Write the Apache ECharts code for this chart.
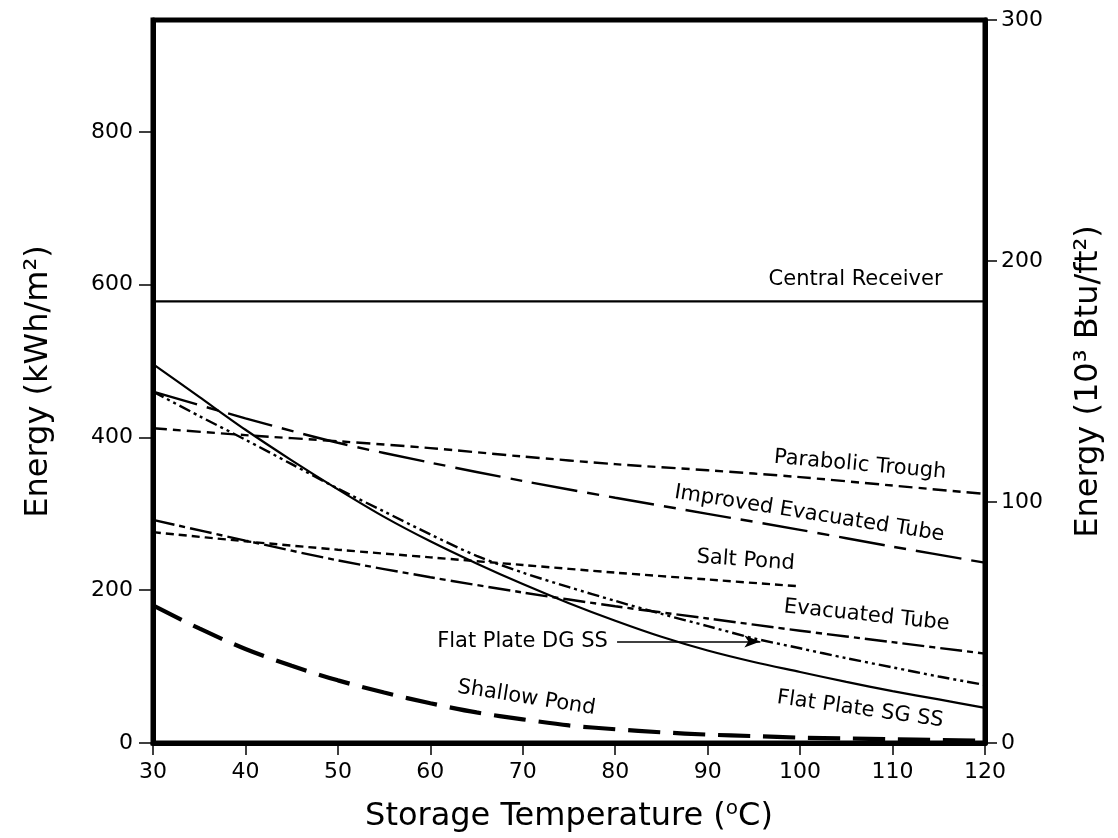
<!DOCTYPE html>
<html>
<head>
<meta charset="utf-8">
<script src="https://cdn.jsdelivr.net/npm/echarts@6/dist/echarts.min.js"></script>
<style>
html,body{margin:0;padding:0;background:#fff;}
#chart{width:1118px;height:838px;}
</style>
</head>
<body>
<div id="chart"></div>
<script>
// ---- Data ----
const temps10 = [30, 40, 50, 60, 70, 80, 90, 100, 110, 120];
const temps5 = [30, 35, 40, 45, 50, 55, 60, 65, 70, 75, 80, 85, 90, 95, 100, 105, 110, 115, 120];
const saltTemps = [30, 40, 50, 60, 70, 80, 90, 100];

const centralReceiver = [578, 578, 578, 578, 578, 578, 578, 578, 578, 578];
const parabolicTrough = [412, 403, 395, 386, 375, 365, 357, 348, 337, 326];
const improvedEvacTube = [460, 425, 393, 367, 343, 321, 300, 279, 257, 236];
const evacuatedTube = [292, 265, 239, 217, 197, 179, 163, 147, 132, 117];
const saltPond = [276, 264, 253, 243, 233, 223, 214, 205];
const flatPlateDG = [460, 428, 397, 365, 333, 303, 273, 245, 223, 204, 186, 169, 153, 137, 124, 111, 99, 87, 76];
const flatPlateSG = [496, 453, 410, 370, 332, 296, 264, 235, 208, 183, 160, 139, 121, 106, 93, 80, 68, 57, 46];
const shallowPond = [180, 150, 123, 101, 82, 66, 52, 40, 31, 23, 18, 14, 11, 9, 7, 6, 5, 4, 3];

const leftTicks = [0, 200, 400, 600, 800];
const rightTicks = [0, 100, 200, 300];
const xTicks = [30, 40, 50, 60, 70, 80, 90, 100, 110, 120];

// Arrow annotation for "Flat Plate DG SS" (data coordinates)
const dgArrow = [[80.2, 133], [95.7, 133]];

// Curve labels: [text, T, energy, rotation(deg), align]
const curveLabels = [
  ['Central Receiver', 106.0, 607, 0, 'center'],
  ['Parabolic Trough', 106.5, 364, -5, 'center'],
  ['Improved Evacuated Tube', 101.0, 300, -9, 'center'],
  ['Salt Pond', 94.1, 239, -4, 'center'],
  ['Evacuated Tube', 107.2, 167, -6, 'center'],
  ['Flat Plate DG SS', 79.2, 133, 0, 'right'],
  ['Flat Plate SG SS', 106.5, 44, -8, 'center'],
  ['Shallow Pond', 70.4, 59, -9, 'center']
];

const KWH_PER_KBTU = 0.317; // 1 kWh/m2 = 0.317 10^3 Btu/ft2
const leftMax = 300 / KWH_PER_KBTU;

const FONT = 'DejaVu Sans';
const pair = (xs, ys) => xs.map((x, i) => [x, ys[i]]);

function lineSeries(name, xs, ys, type, width, extra) {
  return Object.assign({
    name: name,
    type: 'line',
    data: pair(xs, ys),
    showSymbol: false,
    symbol: 'none',
    smooth: 0.3,
    lineStyle: { color: '#000', width: width, type: type },
    z: 3
  }, extra || {});
}

const chart = echarts.init(document.getElementById('chart'), null, { renderer: 'canvas' });

const option = {
  animation: false,
  backgroundColor: '#fff',
  grid: {
    left: 153, right: 133, top: 20, bottom: 95,
    containLabel: false,
    outerBoundsMode: 'none',
    show: true, borderColor: '#000', borderWidth: 5, backgroundColor: 'transparent'
  },
  xAxis: {
    type: 'value', min: 30, max: 120, interval: 10,
    name: 'Storage Temperature ({sup|o}C)', nameLocation: 'middle', nameGap: 56,
    nameTextStyle: {
      fontFamily: FONT, fontSize: 32, color: '#000',
      rich: {
        sup: { fontFamily: FONT, fontSize: 20, verticalAlign: 'top', padding: [0, 0, 16, 0], color: '#000' }
      }
    },
    axisLine: { show: true, lineStyle: { color: '#000', width: 5 } },
    axisTick: { show: true, inside: false, length: 12, lineStyle: { color: '#000', width: 1.5 } },
    axisLabel: { color: '#000', fontFamily: FONT, fontSize: 22, margin: 18 },
    splitLine: { show: false }
  },
  yAxis: [
    {
      type: 'value', min: 0, max: leftMax, position: 'left',
      name: 'Energy (kWh/m²)', nameLocation: 'middle', nameGap: 98, nameRotate: 90,
      nameTextStyle: { fontFamily: FONT, fontSize: 32, color: '#000' },
      axisLine: { show: true, lineStyle: { color: '#000', width: 5 } },
      axisTick: { show: true, inside: false, length: 14, lineStyle: { color: '#000', width: 1.5 }, customValues: leftTicks },
      axisLabel: { color: '#000', fontFamily: FONT, fontSize: 22, margin: 20, customValues: leftTicks },
      splitLine: { show: false }
    },
    {
      type: 'value', min: 0, max: 300, interval: 100, position: 'right',
      name: 'Energy (10³ Btu/ft²)', nameLocation: 'middle', nameGap: 88, nameRotate: 90,
      nameTextStyle: { fontFamily: FONT, fontSize: 32, color: '#000' },
      axisLine: { show: true, lineStyle: { color: '#000', width: 5 } },
      axisTick: { show: true, inside: false, length: 12, lineStyle: { color: '#000', width: 1.5 } },
      axisLabel: { color: '#000', fontFamily: FONT, fontSize: 22, margin: 16 },
      splitLine: { show: false }
    }
  ],
  series: [
    lineSeries('Central Receiver', temps10, centralReceiver, 'solid', 2.2),
    lineSeries('Parabolic Trough', temps10, parabolicTrough, [14, 6, 8, 6], 2.4),
    lineSeries('Improved Evacuated Tube', temps10, improvedEvacTube, [46, 10, 12, 10], 2.4),
    lineSeries('Salt Pond', saltTemps, saltPond, [8, 5], 2.4),
    lineSeries('Evacuated Tube', temps10, evacuatedTube, [22, 5, 6, 5], 2.4),
    lineSeries('Flat Plate DG SS', temps5, flatPlateDG, [12, 4, 3, 4, 3, 4], 2.4, {
      markLine: {
        silent: true,
        symbol: ['none', 'arrow'],
        symbolSize: [9, 16],
        label: { show: false },
        lineStyle: { color: '#000', width: 1.5, type: 'solid' },
        data: [[{ coord: dgArrow[0] }, { coord: dgArrow[1] }]]
      }
    }),
    lineSeries('Flat Plate SG SS', temps5, flatPlateSG, 'solid', 2.2),
    lineSeries('Shallow Pond', temps5, shallowPond, [32, 13], 4.2)
  ]
};

chart.setOption(option);

// Curve labels placed through the chart's own coordinate conversion
const graphics = curveLabels.map(function (l) {
  const p = chart.convertToPixel({ xAxisIndex: 0, yAxisIndex: 0 }, [l[1], l[2]]);
  return {
    type: 'text',
    x: p[0], y: p[1],
    rotation: l[3] * Math.PI / 180,
    z: 10,
    style: {
      text: l[0],
      fill: '#000',
      font: '21px "' + FONT + '"',
      align: l[4],
      verticalAlign: 'middle'
    }
  };
});
chart.setOption({ graphic: graphics });
</script>
</body>
</html>
